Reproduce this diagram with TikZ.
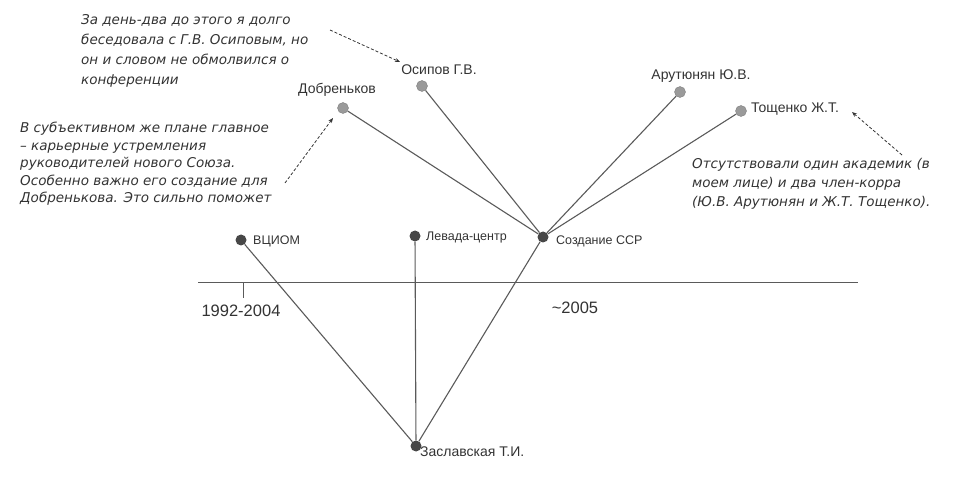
\documentclass[tikz,border=0pt]{standalone}
\usepackage{fontspec}
\setmainfont{Liberation Sans}
\newfontfamily\notefont{DejaVu Sans}
\usetikzlibrary{arrows.meta}
\definecolor{linegray}{HTML}{5A5A5A}
\definecolor{dotlight}{HTML}{9A9A9A}
\definecolor{dotdark}{HTML}{474747}
\definecolor{textgray}{HTML}{333333}
\tikzset{
  lightdot/.style={circle,fill=dotlight,draw=gray,inner sep=0pt,minimum size=11pt},
  darkdot/.style={circle,fill=dotdark,inner sep=0pt,minimum size=11pt},
  tie/.style={draw=linegray,line width=1.1pt},
  who/.style={text=textgray,inner sep=0pt,font=\fontsize{14}{16}\selectfont},
  whosmall/.style={who,anchor=west,font=\fontsize{12.5}{14}\selectfont},
  yearlabel/.style={who,font=\fontsize{16.5}{18}\selectfont},
  note/.style={text=textgray,inner sep=0pt,align=left,anchor=north west,
    font=\notefont\itshape\fontsize{13.5}{17.5}\selectfont},
  hint/.style={densely dashed,line width=0.8pt,draw=textgray,-{Stealth[length=5pt,width=4pt]}}
}
\begin{document}
\begin{tikzpicture}[x=1pt,y=-1pt]
  \useasboundingbox (0,0) rectangle (961,486);
  % people above
  \node[lightdot] (dob) at (343,108) {};
  \node[lightdot] (osip) at (422,86) {};
  \node[lightdot] (arut) at (680,92) {};
  \node[lightdot] (tosh) at (741,111) {};
  \node[darkdot] (sozd) at (543,237) {};
  % lower level
  \node[darkdot] (vciom) at (241,240) {};
  \node[darkdot] (levada) at (415,236) {};
  \node[darkdot] (zasl) at (416,446) {};
  % labels
  \node[who] at (337,90) {Добреньков};
  \node[who] at (439,70) {Осипов Г.В.};
  \node[who] at (701,76) {Арутюнян Ю.В.};
  \node[who,anchor=west] at (751,109) {Тощенко Ж.Т.};
  \node[whosmall] at (556,241) {Создание ССР};
  \node[whosmall] at (253,241) {ВЦИОМ};
  \node[whosmall] at (426,237) {Левада-центр};
  \node[who,anchor=west] at (420,452) {Заславская Т.И.};
  % connections
  \draw[tie] (dob) -- (sozd);
  \draw[tie] (osip) -- (sozd);
  \draw[tie] (arut) -- (sozd);
  \draw[tie] (tosh) -- (sozd);
  \draw[tie] (vciom) -- (zasl);
  \draw[tie] (levada) -- (zasl);
  \draw[tie] (sozd) -- (zasl);
  % time axis
  \coordinate (t0) at (198,283);
  \coordinate (t1) at (858,283);
  \draw[draw=linegray,line width=1pt] (t0) -- (t1);
  \draw[draw=linegray,line width=0.8pt] (243,283) -- (243,298);
  \node[yearlabel] at (241,311) {1992-2004};
  \node[yearlabel] at (575,308) {\textasciitilde2005};
  % comments
  \node[note,font=\notefont\itshape\fontsize{13.5}{20}\selectfont] (n1) at (81,14) {За день-два до этого я долго\\беседовала с Г.В. Осиповым, но\\он и словом не обмолвился о\\конференции};
  \node[note] (n2) at (20,122) {В субъективном же плане главное\\– карьерные устремления\\руководителей нового Союза.\\Особенно важно его создание для\\Добренькова. Это сильно поможет};
  \node[note,font=\notefont\itshape\fontsize{13.5}{19}\selectfont] (n3) at (692,158) {Отсутствовали один академик (в\\моем лице) и два член-корра\\(Ю.В. Арутюнян и Ж.Т. Тощенко).};
  \coordinate (h1) at (330,30);
  \coordinate (h2) at (285,183);
  \coordinate (h3) at (902,155);
  \draw[hint] (h1) -- (400,62);
  \draw[hint] (h2) -- (333,118);
  \draw[hint] (h3) -- (852,112);
\end{tikzpicture}
\end{document}
